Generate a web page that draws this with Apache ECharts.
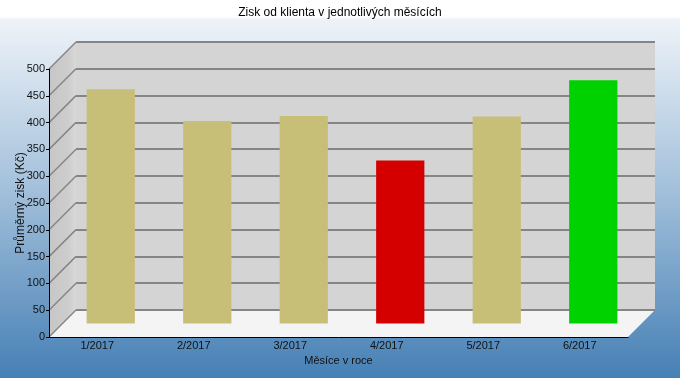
<!DOCTYPE html>
<html>
<head>
<meta charset="utf-8">
<title>Zisk od klienta</title>
<script src="https://cdn.jsdelivr.net/npm/echarts@6/dist/echarts.min.js"></script>
<style>
  html, body { margin: 0; padding: 0; }
  #chart { width: 680px; height: 378px; }
</style>
</head>
<body>
<div id="chart"></div>
<script>
  // data
  const months = ['1/2017', '2/2017', '3/2017', '4/2017', '5/2017', '6/2017']
  const profit = [437, 378, 387, 304, 386, 454]
  const barColors = ['#c7bf78', '#c7bf78', '#c7bf78', '#d40000', '#c7bf78', '#00d200']
  const yMin = 0
  const yMax = 500
  const yStep = 50

  // 3d look: front plane, bars half way, back wall
  const depth = 27
  const front = { left: 49, top: 69, width: 579, height: 268 }
  const shift = (g, k) => ({ left: g.left + k, top: g.top - k, width: g.width, height: g.height })
  const font = 'Liberation Sans, Arial, sans-serif'

  const chart = echarts.init(document.getElementById('chart'))

  const yTicks = []
  for (let v = yMin; v <= yMax; v += yStep) yTicks.push(v)

  chart.setOption({
    backgroundColor: {
      type: 'linear', x: 0, y: 0, x2: 0, y2: 1,
      colorStops: [
        { offset: 0, color: '#ffffff' },
        { offset: 0.045, color: '#ffffff' },
        { offset: 0.05, color: '#eef3f8' },
        { offset: 0.5, color: '#a3c0db' },
        { offset: 1, color: '#4680b5' }
      ]
    },
    title: {
      text: 'Zisk od klienta v jednotlivých měsících',
      left: 'center',
      top: 2,
      textStyle: { fontFamily: font, fontSize: 12, fontWeight: 'normal', color: '#000' }
    },
    grid: [
      Object.assign({}, front, { containLabel: false }),
      Object.assign({}, shift(front, depth / 2)),
      Object.assign({}, shift(front, depth), { show: true, backgroundColor: '#d4d4d4', borderWidth: 0 })
    ],
    xAxis: [
      {
        gridIndex: 0, type: 'category', data: months, z: 6,
        name: 'Měsíce v roce', nameLocation: 'middle', nameGap: 17,
        nameTextStyle: { fontFamily: font, fontSize: 11, color: '#111' },
        axisLine: { lineStyle: { color: '#000', width: 1 } },
        axisTick: { show: false },
        axisLabel: { fontFamily: font, fontSize: 11, color: '#111', margin: 3 }
      },
      { gridIndex: 1, type: 'category', data: months, show: false },
      { gridIndex: 2, type: 'category', data: months, show: false }
    ],
    yAxis: [
      {
        gridIndex: 0, type: 'value', min: yMin, max: yMax, interval: yStep, z: 6,
        name: 'Průměrný zisk (Kč)', nameLocation: 'middle', nameGap: 22, nameMoveOverlap: false,
        nameTextStyle: { fontFamily: font, fontSize: 12, color: '#111' },
        axisLine: { show: true, lineStyle: { color: '#000', width: 1 } },
        axisTick: { show: true, length: 3, lineStyle: { color: '#000' } },
        axisLabel: { fontFamily: font, fontSize: 11, color: '#111', margin: 4 },
        splitLine: { show: false }
      },
      { gridIndex: 1, type: 'value', min: yMin, max: yMax, interval: yStep, show: false },
      {
        gridIndex: 2, type: 'value', min: yMin, max: yMax, interval: yStep, z: 3,
        axisLine: { show: false }, axisTick: { show: false }, axisLabel: { show: false },
        splitLine: { show: true, lineStyle: { color: '#858585', width: 2 } }
      }
    ],
    series: [
      {
        // left wall, floor and the slanted grid lines
        type: 'custom',
        xAxisIndex: 0, yAxisIndex: 0, z: 1,
        silent: true,
        data: [[0, 0]],
        renderItem: (params, api) => {
          const cs = params.coordSys
          const x0 = cs.x
          const x1 = cs.x + cs.width
          const yb = cs.y + cs.height
          const yt = cs.y
          const kids = [
            {
              type: 'polygon',
              shape: { points: [[x0, yb], [x0, yt], [x0 + depth, yt - depth], [x0 + depth, yb - depth]] },
              style: {
                fill: {
                  type: 'linear', x: 0, y: 0, x2: 1, y2: 0,
                  colorStops: [{ offset: 0, color: '#c6c6c6' }, { offset: 0.7, color: '#cdcdcd' }, { offset: 1, color: '#d8d8d8' }]
                }
              }
            },
            {
              type: 'polygon',
              shape: { points: [[x0, yb], [x1, yb], [x1 + depth, yb - depth], [x0 + depth, yb - depth]] },
              style: { fill: '#f4f4f4' }
            }
          ]
          yTicks.forEach(v => {
            const y = api.coord([0, v])[1]
            kids.push({
              type: 'line',
              shape: { x1: x0, y1: y, x2: x0 + depth, y2: y - depth },
              style: { stroke: '#858585', lineWidth: 1.5 }
            })
          })
          return { type: 'group', children: kids }
        }
      },
      {
        type: 'bar',
        xAxisIndex: 1, yAxisIndex: 1, z: 4,
        barWidth: '50%',
        data: profit.map((v, i) => ({ value: v, itemStyle: { color: barColors[i] } }))
      }
    ]
  })
</script>
</body>
</html>
